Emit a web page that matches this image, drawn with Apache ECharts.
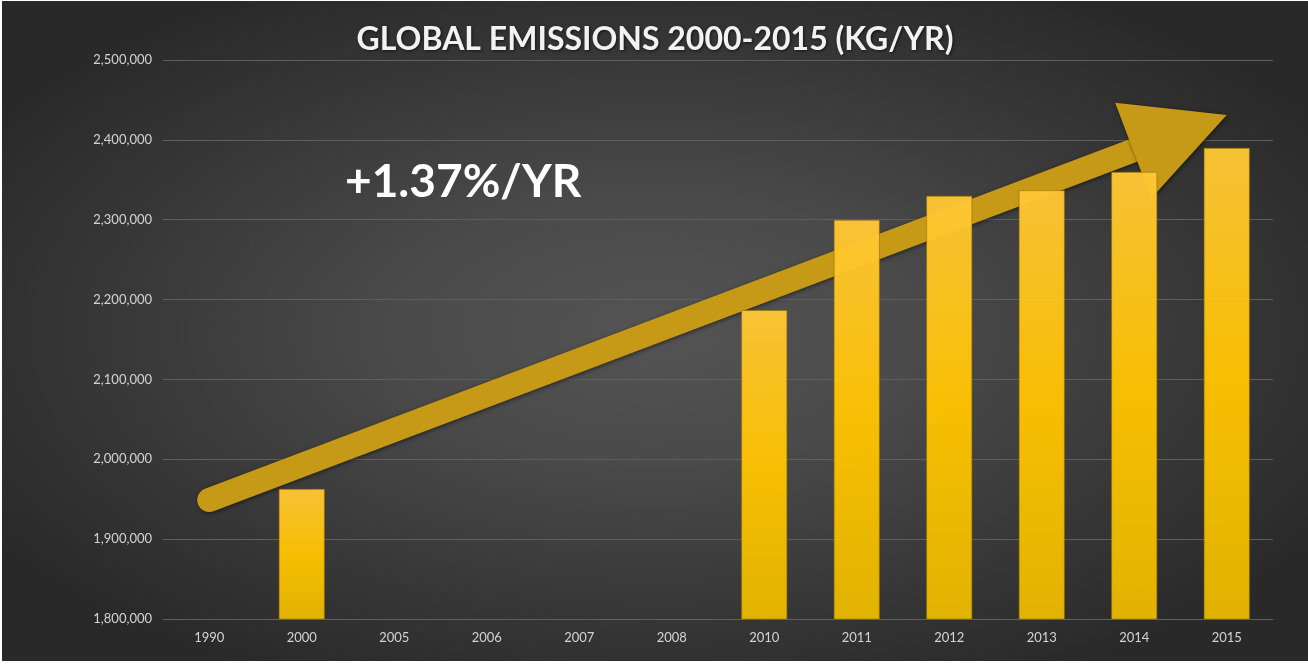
<!DOCTYPE html>
<html>
<head>
<meta charset="utf-8">
<script src="https://cdn.jsdelivr.net/npm/echarts@6/dist/echarts.min.js"></script>
<style>
  html, body { margin: 0; padding: 0; background: #ffffff; }
  #chart {
    position: absolute; left: 2px; top: 1px; width: 1306px; height: 660px;
    background: radial-gradient(ellipse closest-side at 50% 50%, #545454 0%, #4a4a4a 40%, #373737 85%, #292929 120%);
  }
</style>
</head>
<body>
<div id="chart"></div>
<script>
// Years on the category axis
const years = ['1990', '2000', '2005', '2006', '2007', '2008', '2010', '2011', '2012', '2013', '2014', '2015'];
// Emissions per year (kg/yr); years without a bar are null
const emissions = [null, 1963000, null, null, null, null, 2187000, 2300000, 2330000, 2337000, 2360000, 2390000];
// Trend arrow: [startCategoryIndex, startValue, endCategoryIndex, endValue]
const trendArrow = [[0, 1949000, 11, 2431000]];
const trendLabel = '+1.37%/YR';
const chartTitle = 'GLOBAL EMISSIONS 2000-2015 (KG/YR)';
// Value axis range
const yMin = 1800000, yMax = 2500000, yStep = 100000;

const chart = echarts.init(document.getElementById('chart'), null, { renderer: 'canvas' });

function renderArrow(params, api) {
  const p0 = api.coord([api.value(0), api.value(1)]);
  const p1 = api.coord([api.value(2), api.value(3)]);
  const dx = p1[0] - p0[0], dy = p1[1] - p0[1];
  const len = Math.sqrt(dx * dx + dy * dy);
  const ux = dx / len, uy = dy / len;
  const px = -uy, py = ux;
  const headLen = 100, headHalf = 51;
  const base = [p1[0] - ux * headLen, p1[1] - uy * headLen];
  const fill = 'rgb(198,154,22)';
  const shadow = { shadowBlur: 4, shadowColor: 'rgba(0,0,0,0.55)', shadowOffsetX: 1, shadowOffsetY: 1 };
  return {
    type: 'group',
    children: [
      {
        type: 'line',
        shape: { x1: p0[0], y1: p0[1], x2: base[0] + ux * 6, y2: base[1] + uy * 6 },
        style: Object.assign({ stroke: fill, lineWidth: 24, lineCap: 'round' }, shadow)
      },
      {
        type: 'polygon',
        shape: {
          points: [
            [p1[0], p1[1]],
            [base[0] + px * headHalf, base[1] + py * headHalf],
            [base[0] - px * headHalf, base[1] - py * headHalf]
          ]
        },
        style: Object.assign({ fill: fill }, shadow)
      }
    ]
  };
}

const option = {
  backgroundColor: 'transparent',
  animation: false,
  title: {
    text: chartTitle,
    left: 'center',
    top: 18,
    textStyle: {
      fontFamily: 'Lato',
      fontWeight: 'bold',
      fontSize: 32,
      color: '#f2f2f2',
      textShadowColor: 'rgba(0,0,0,0.6)',
      textShadowBlur: 3,
      textShadowOffsetX: 1,
      textShadowOffsetY: 1
    }
  },
  grid: { left: 161, right: 35, top: 59, bottom: 42 },
  xAxis: {
    type: 'category',
    data: years,
    axisLine: { show: true, lineStyle: { color: '#5f5f5f', width: 1 } },
    axisTick: { show: false },
    axisLabel: {
      color: '#d4d4d4',
      fontFamily: 'Lato',
      fontSize: 13,
      margin: 12
    }
  },
  yAxis: {
    type: 'value',
    min: yMin,
    max: yMax,
    interval: yStep,
    axisLine: { show: false },
    axisTick: { show: false },
    splitLine: { lineStyle: { color: '#5f5f5f', width: 1 } },
    axisLabel: {
      color: '#d4d4d4',
      fontFamily: 'Lato',
      fontSize: 13,
      margin: 11,
      formatter: v => v.toLocaleString('en-US')
    }
  },
  graphic: [
    {
      type: 'text',
      left: 343,
      top: 158,
      style: {
        text: trendLabel,
        fill: '#ffffff',
        font: 'bold 46px Lato',
        shadowColor: 'rgba(0,0,0,0.4)',
        shadowBlur: 3
      },
      z: 10
    }
  ],
  series: [
    {
      type: 'custom',
      renderItem: renderArrow,
      data: trendArrow,
      z: 1,
      silent: true
    },
    {
      type: 'bar',
      data: emissions,
      barWidth: '50%',
      z: 2,
      itemStyle: {
        opacity: 0.96,
        borderColor: 'rgba(150,110,0,0.6)',
        borderWidth: 1,
        color: {
          type: 'linear', x: 0, y: 0, x2: 0, y2: 1,
          colorStops: [
            { offset: 0, color: '#ffc736' },
            { offset: 0.5, color: '#ffc400' },
            { offset: 1, color: '#e8b800' }
          ]
        }
      }
    }
  ]
};

chart.setOption(option);
</script>
</body>
</html>
